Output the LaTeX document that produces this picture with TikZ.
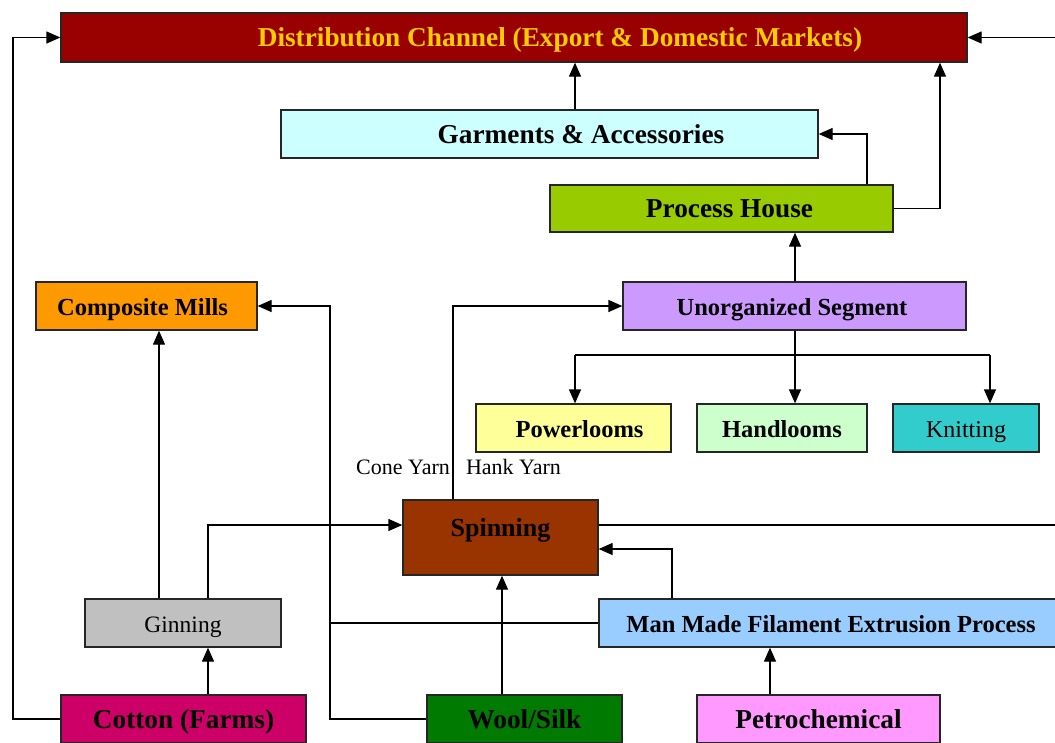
\documentclass[tikz,border=0pt]{standalone}
\usepackage{fontspec}
\setmainfont{Liberation Serif}
\usetikzlibrary{arrows.meta}
\definecolor{distred}{HTML}{990000}
\definecolor{distyel}{HTML}{FFCC00}
\definecolor{garmcol}{HTML}{CCFFFF}
\definecolor{proccol}{HTML}{99CC00}
\definecolor{compcol}{HTML}{FF9900}
\definecolor{unorgcol}{HTML}{CC99FF}
\definecolor{powcol}{HTML}{FFFF99}
\definecolor{handcol}{HTML}{CCFFCC}
\definecolor{knitcol}{HTML}{33CCCC}
\definecolor{spincol}{HTML}{993300}
\definecolor{gincol}{HTML}{C0C0C0}
\definecolor{mmcol}{HTML}{99CCFF}
\definecolor{cotcol}{HTML}{CC0066}
\definecolor{woolcol}{HTML}{007A00}
\definecolor{petrocol}{HTML}{FF99FF}
\tikzset{
  box/.style={draw=black!85,line width=1.3pt,inner sep=0pt,minimum height=48pt,
    text height=20pt,text depth=2pt,font=\fontsize{27.3}{29}\selectfont\bfseries},
  midbox/.style={box,font=\fontsize{24.5}{27}\selectfont\bfseries},
  plainbox/.style={box,font=\fontsize{24}{26}\selectfont},
  arr/.style={line width=1.3pt,-{Triangle[length=14pt,width=12pt]}},
  wire/.style={line width=1.3pt},
  yarn/.style={font=\fontsize{22}{24}\selectfont,inner sep=0pt}
}
\begin{document}
\begin{tikzpicture}[x=1pt,y=-1pt]
\useasboundingbox (0,0) rectangle (1055,742);
\node[box,fill=distred,text=distyel,minimum width=906pt,minimum height=49pt] (dist) at (514,37.5) {\hspace*{92pt}Distribution Channel (Export \& Domestic Markets)};
\node[box,fill=garmcol,minimum width=537pt] (garm) at (549.5,134) {\hspace*{63pt}Garments \& Accessories};
\node[box,fill=proccol,minimum width=343pt,minimum height=47pt] (proc) at (721.5,208.5) {\hspace*{16pt}Process House};
\node[midbox,fill=compcol,minimum width=221pt] (comp) at (146.5,306) {Composite Mills\hspace*{8pt}};
\node[midbox,fill=unorgcol,minimum width=343pt] (unorg) at (794.5,306) {Unorganized Segment\hspace*{5pt}};
\node[midbox,fill=powcol,minimum width=195pt] (power) at (573.5,428) {\hspace*{12pt}Powerlooms};
\node[midbox,fill=handcol,minimum width=170pt] (hand) at (782,428) {Handlooms};
\node[plainbox,fill=knitcol,minimum width=146pt] (knit) at (966,428) {Knitting};
\node[box,fill=spincol,minimum width=195pt,minimum height=75pt,text height=18pt,text depth=20pt,
  font=\fontsize{26}{28}\selectfont\bfseries] (spin) at (500.5,537.5) {Spinning};
\node[plainbox,fill=gincol,minimum width=196pt,font=\fontsize{23.5}{26}\selectfont] (gin) at (183,623) {Ginning};
\node[midbox,fill=mmcol,minimum width=464pt] (mm) at (831,623) {Man Made Filament Extrusion Process};
\node[box,fill=cotcol,minimum width=245pt] (cot) at (183.5,719) {Cotton (Farms)};
\node[box,fill=woolcol,minimum width=195pt] (wool) at (524.5,719) {Wool/Silk};
\node[box,fill=petrocol,minimum width=243pt] (petro) at (818.5,719) {Petrochemical};
\node[yarn] (cone) at (403,467) {Cone Yarn};
\node[yarn] (hank) at (513.5,467) {Hank Yarn};

\coordinate (xa) at (575,0);
\coordinate (xb) at (867,0);
\coordinate (xc) at (940,0);
\coordinate (xe) at (453,0);
\coordinate (xf) at (330,0);
\coordinate (xg) at (159,0);
\coordinate (xh) at (208,0);
\coordinate (xi) at (13,0);
\coordinate (xj) at (502,0);
\coordinate (xk) at (672,0);
\coordinate (xl) at (770,0);
\coordinate (xr) at (1080,0);
\coordinate (xp) at (575,0);
\coordinate (xq) at (795,0);
\coordinate (xs) at (990,0);
\coordinate (ybr) at (0,355);
\coordinate (ysp) at (0,525);
\coordinate (ymm) at (0,549);

\draw[arr] (garm.north -| xa) -- (dist.south -| xa);
\draw[arr] (proc.north -| xb) |- (garm.east);
\draw[arr] (proc.east) -| (dist.south -| xc);
\draw[arr] (spin.east |- ysp) -- (xr |- ysp) |- (dist.east);
\draw[arr] (unorg.north -| xq) -- (proc.south -| xq);
\draw[wire] (unorg.south -| xq) -- (xq |- ybr);
\draw[wire] (xp |- ybr) -- (xs |- ybr);
\draw[arr] (xp |- ybr) -- (power.north -| xp);
\draw[arr] (xq |- ybr) -- (hand.north -| xq);
\draw[arr] (xs |- ybr) -- (knit.north -| xs);
\draw[arr] (spin.north -| xe) |- (unorg.west);
\draw[arr] (wool.west) -| (xf |- comp.east) -- (comp.east);
\draw[wire] (mm.west) -- (xf |- mm.west);
\draw[arr] (gin.north -| xg) -- (comp.south -| xg);
\draw[arr] (gin.north -| xh) |- (spin.west |- ysp);
\draw[arr] (cot.north -| xh) -- (gin.south -| xh);
\draw[arr] (cot.west) -| (xi |- dist.west) -- (dist.west);
\draw[arr] (wool.north -| xj) -- (spin.south -| xj);
\draw[arr] (mm.north -| xk) |- (spin.east |- ymm);
\draw[arr] (petro.north -| xl) -- (mm.south -| xl);
\end{tikzpicture}
\end{document}
